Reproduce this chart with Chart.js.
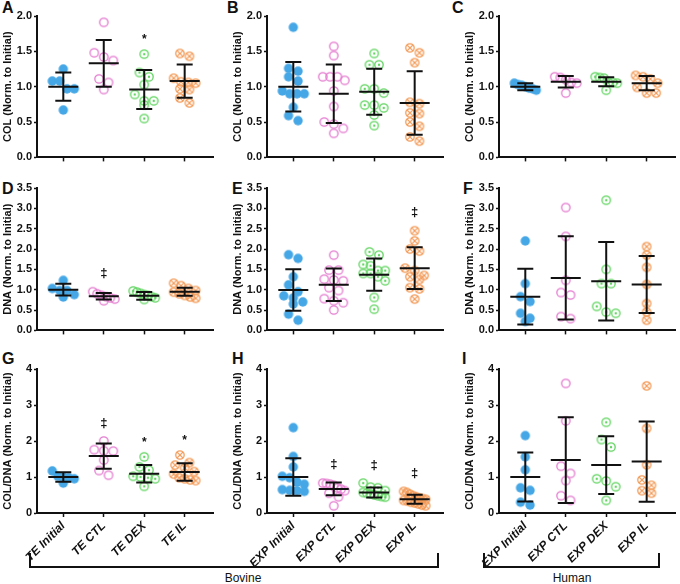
<!DOCTYPE html>
<html>
<head>
<meta charset="utf-8">
<script src="https://cdn.jsdelivr.net/npm/chart.js@4.4.1/dist/chart.umd.min.js"></script>
<style>
  body { margin: 0; background: #fff; }
  #fig { position: relative; width: 680px; height: 584px; overflow: hidden; font-family: "Liberation Sans", Arial, sans-serif; color: #111; }
  #fig canvas { position: absolute; }
  .tag { position: absolute; font-weight: bold; font-size: 16px; line-height: 16px; }
  .bracket { position: absolute; box-sizing: border-box; border: 2px solid #111; border-top: none; }
  .group { position: absolute; font-size: 12px; line-height: 14px; width: 80px; text-align: center; }
</style>
</head>
<body>
<div id="fig">
  <div class="tag" style="left:2px;top:0px">A</div>
  <div class="tag" style="left:227px;top:0px">B</div>
  <div class="tag" style="left:452px;top:0px">C</div>
  <div class="tag" style="left:2px;top:181px">D</div>
  <div class="tag" style="left:232px;top:181px">E</div>
  <div class="tag" style="left:463px;top:181px">F</div>
  <div class="tag" style="left:2px;top:351px">G</div>
  <div class="tag" style="left:232px;top:351px">H</div>
  <div class="tag" style="left:462px;top:351px">I</div>
  <div class="bracket" style="left:29px;top:553px;width:410px;height:15px"></div>
  <div class="bracket" style="left:483px;top:553px;width:177px;height:15px"></div>
  <div class="group" style="left:203px;top:571px">Bovine</div>
  <div class="group" style="left:532px;top:571px">Human</div>
</div>
<script>
// group names
const groupsTE = ['TE Initial', 'TE CTL', 'TE DEX', 'TE IL'];
const groupsEXP = ['EXP Initial', 'EXP CTL', 'EXP DEX', 'EXP IL'];

// A - COL, bovine TE
const colTE = [
  [1.25, 1.08, 1.08, 0.97, 0.97, 0.67],
  [1.91, 1.48, 1.42, 1.37, 1.11, 1.06, 0.96],
  [1.46, 1.20, 1.14, 1.03, 0.89, 0.80, 0.80, 0.74, 0.55],
  [1.47, 1.43, 1.12, 1.07, 1.06, 1.05, 0.97, 0.96, 0.84, 0.77]
];
const colTEMean = [1.00, 1.33, 0.96, 1.08];
const colTESd = [0.20, 0.33, 0.275, 0.235];
const colTESig = ['', '', '*', ''];

// B - COL, bovine explants
const colBov = [
  [1.84, 1.26, 1.22, 1.14, 1.08, 0.94, 0.90, 0.90, 0.90, 0.71, 0.59, 0.52],
  [1.57, 1.44, 1.14, 1.14, 1.14, 1.09, 0.94, 0.72, 0.50, 0.47, 0.41, 0.34],
  [1.47, 1.31, 1.31, 0.97, 0.97, 0.91, 0.74, 0.74, 0.70, 0.60, 0.45],
  [1.55, 1.48, 1.34, 0.78, 0.76, 0.63, 0.62, 0.50, 0.44, 0.29, 0.23]
];
const colBovMean = [1.00, 0.90, 0.93, 0.77];
const colBovSd = [0.35, 0.415, 0.325, 0.45];
const colBovSig = ['', '', '', ''];

// C - COL, human explants
const colHum = [
  [1.05, 1.03, 1.02, 1.00, 0.98, 0.97, 0.95],
  [1.14, 1.13, 1.10, 1.06, 1.05, 0.91],
  [1.14, 1.13, 1.12, 1.06, 1.06, 1.05, 0.95],
  [1.16, 1.14, 1.11, 1.05, 0.99, 0.91, 0.91]
];
const colHumMean = [1.00, 1.07, 1.07, 1.05];
const colHumSd = [0.05, 0.08, 0.065, 0.10];
const colHumSig = ['', '', '', ''];

// D - DNA, bovine TE
const dnaTE = [
  [1.23, 1.03, 0.98, 0.98, 0.88, 0.82],
  [0.95, 0.90, 0.86, 0.83, 0.80, 0.77, 0.73],
  [0.97, 0.94, 0.91, 0.88, 0.86, 0.83, 0.80, 0.76],
  [1.16, 1.10, 1.03, 0.98, 0.94, 0.90, 0.86, 0.82, 0.79]
];
const dnaTEMean = [1.00, 0.84, 0.85, 0.95];
const dnaTESd = [0.145, 0.08, 0.095, 0.10];
const dnaTESig = ['', '\u2021', '', ''];

// E - DNA, bovine explants
const dnaBov = [
  [1.86, 1.77, 1.32, 1.12, 0.95, 0.85, 0.80, 0.70, 0.65, 0.40, 0.25],
  [1.85, 1.48, 1.48, 1.26, 1.24, 1.22, 1.05, 0.98, 0.78, 0.73, 0.68, 0.50],
  [1.93, 1.85, 1.62, 1.59, 1.47, 1.47, 1.40, 1.40, 1.32, 1.22, 0.81, 0.52],
  [2.45, 2.20, 2.00, 1.95, 1.53, 1.47, 1.35, 1.32, 1.25, 1.05, 1.02, 0.77]
];
const dnaBovMean = [0.99, 1.12, 1.37, 1.53];
const dnaBovSd = [0.51, 0.40, 0.395, 0.515];
const dnaBovSig = ['', '', '', '\u2021'];

// F - DNA, human explants
const dnaHum = [
  [2.20, 1.15, 0.83, 0.71, 0.42, 0.30, 0.22],
  [3.02, 2.31, 1.23, 0.93, 0.87, 0.34, 0.29],
  [3.20, 1.50, 1.15, 1.15, 0.59, 0.45, 0.42],
  [2.06, 1.85, 1.55, 1.13, 0.66, 0.45, 0.25]
];
const dnaHumMean = [0.83, 1.29, 1.21, 1.13];
const dnaHumSd = [0.685, 1.025, 0.965, 0.70];
const dnaHumSig = ['', '', '', ''];

// G - COL/DNA, bovine TE
const ratioTE = [
  [1.17, 1.02, 1.00, 0.98, 0.95, 0.83],
  [2.00, 1.76, 1.73, 1.72, 1.47, 1.18, 1.05],
  [1.56, 1.28, 1.19, 1.02, 1.00, 0.98, 0.95, 0.74],
  [1.61, 1.40, 1.33, 1.25, 1.15, 1.08, 0.98, 0.95, 0.92, 0.90]
];
const ratioTEMean = [1.00, 1.58, 1.09, 1.14];
const ratioTESd = [0.13, 0.35, 0.245, 0.245];
const ratioTESig = ['', '\u2021', '*', '*'];

// H - COL/DNA, bovine explants
const ratioBov = [
  [2.37, 1.57, 1.28, 1.02, 0.98, 0.86, 0.80, 0.65, 0.63, 0.62, 0.60],
  [0.83, 0.82, 0.80, 0.77, 0.70, 0.66, 0.62, 0.55, 0.45, 0.20],
  [0.83, 0.72, 0.70, 0.62, 0.57, 0.55, 0.53, 0.50, 0.48, 0.46, 0.44],
  [0.60, 0.57, 0.52, 0.48, 0.45, 0.42, 0.40, 0.38, 0.35, 0.33, 0.30, 0.28, 0.25, 0.22, 0.20]
];
const ratioBovMean = [1.00, 0.67, 0.57, 0.38];
const ratioBovSd = [0.52, 0.175, 0.14, 0.125];
const ratioBovSig = ['', '\u2021', '\u2021', '\u2021'];

// I - COL/DNA, human explants
const ratioHum = [
  [2.15, 1.56, 1.20, 0.70, 0.63, 0.30, 0.22],
  [3.60, 2.56, 1.30, 1.10, 0.90, 0.48, 0.35],
  [2.52, 2.04, 1.83, 0.95, 0.89, 0.73, 0.35],
  [3.53, 2.35, 1.34, 0.92, 0.77, 0.62, 0.55]
];
const ratioHumMean = [1.00, 1.47, 1.33, 1.43];
const ratioHumSd = [0.68, 1.19, 0.80, 1.115];
const ratioHumSig = ['', '', '', ''];

const rows = [
  { top: 16, bottom: 158, max: 2, step: 0.5, dec: 1, title: 'COL (Norm. to Initial)', showLabels: false },
  { top: 188, bottom: 331, max: 3.5, step: 0.5, dec: 1, title: 'DNA (Norm. to Initial)', showLabels: false },
  { top: 369, bottom: 513, max: 4, step: 1, dec: 0, title: 'COL/DNA (Norm. to Initial)', showLabels: true }
];
const colAxisX = [37, 267, 499];

const panels = [
  { row: 0, col: 0, labels: groupsTE, values: colTE, mean: colTEMean, sd: colTESd, sig: colTESig },
  { row: 0, col: 1, labels: groupsEXP, values: colBov, mean: colBovMean, sd: colBovSd, sig: colBovSig },
  { row: 0, col: 2, labels: groupsEXP, values: colHum, mean: colHumMean, sd: colHumSd, sig: colHumSig },
  { row: 1, col: 0, labels: groupsTE, values: dnaTE, mean: dnaTEMean, sd: dnaTESd, sig: dnaTESig },
  { row: 1, col: 1, labels: groupsEXP, values: dnaBov, mean: dnaBovMean, sd: dnaBovSd, sig: dnaBovSig },
  { row: 1, col: 2, labels: groupsEXP, values: dnaHum, mean: dnaHumMean, sd: dnaHumSd, sig: dnaHumSig },
  { row: 2, col: 0, labels: groupsTE, values: ratioTE, mean: ratioTEMean, sd: ratioTESd, sig: ratioTESig },
  { row: 2, col: 1, labels: groupsEXP, values: ratioBov, mean: ratioBovMean, sd: ratioBovSd, sig: ratioBovSig },
  { row: 2, col: 2, labels: groupsEXP, values: ratioHum, mean: ratioHumMean, sd: ratioHumSd, sig: ratioHumSig }
];

const FONT = 'Liberation Sans, Arial, sans-serif';
const INK = '#111';

// marker images: filled, open, open with dot, open with cross
function marker(color, kind) {
  const c = document.createElement('canvas');
  c.width = 12; c.height = 12;
  const g = c.getContext('2d');
  g.strokeStyle = color; g.fillStyle = color; g.lineWidth = 1.3;
  g.beginPath();
  if (kind === 'fill') {
    g.arc(6, 6, 4.7, 0, Math.PI * 2); g.fill();
    return c;
  }
  g.arc(6, 6, 4.2, 0, Math.PI * 2); g.stroke();
  if (kind === 'dot') {
    g.beginPath(); g.arc(6, 6, 1.2, 0, Math.PI * 2); g.fill();
  }
  if (kind === 'cross') {
    const d = 2.9;
    g.beginPath();
    g.moveTo(6 - d, 6 - d); g.lineTo(6 + d, 6 + d);
    g.moveTo(6 + d, 6 - d); g.lineTo(6 - d, 6 + d);
    g.stroke();
  }
  return c;
}
const markers = [
  marker('#45a7e6', 'fill'),
  marker('#e47bcf', 'open'),
  marker('#5fd45f', 'dot'),
  marker('#f39b58', 'cross')
];

// scatter-dot layout: points closer than one row height share a row and are spread sideways
function spread(vals, yScale, rowH, gap, maxHalf) {
  const order = vals.map((v, k) => k).sort((a, b) => vals[b] - vals[a]);
  const off = new Array(vals.length).fill(0);
  let rowStart = null, current = [];
  const flush = () => {
    const n = current.length;
    const step = n > 1 ? Math.min(gap, (2 * maxHalf) / (n - 1)) : 0;
    current.forEach((k, j) => { off[k] = (j - (n - 1) / 2) * step; });
    current = [];
  };
  order.forEach(k => {
    const py = yScale.getPixelForValue(vals[k]);
    if (rowStart === null || py - rowStart >= rowH) { flush(); rowStart = py; }
    current.push(k);
  });
  flush();
  return off;
}

function statsPlugin(p) {
  return {
    id: 'stats',
    afterDatasetsDraw(chart) {
      const { ctx, scales: { x, y } } = chart;
      ctx.save();
      ctx.strokeStyle = INK;
      ctx.lineWidth = 2;
      p.mean.forEach((m, i) => {
        const cx = x.getPixelForValue(i);
        const top = y.getPixelForValue(m + p.sd[i]);
        const bot = y.getPixelForValue(Math.max(m - p.sd[i], 0));
        const my = y.getPixelForValue(m);
        ctx.beginPath();
        ctx.moveTo(cx, top); ctx.lineTo(cx, bot);
        ctx.moveTo(cx - 8, top); ctx.lineTo(cx + 8, top);
        ctx.moveTo(cx - 8, bot); ctx.lineTo(cx + 8, bot);
        ctx.moveTo(cx - 15, my); ctx.lineTo(cx + 15, my);
        ctx.stroke();
        if (p.sig[i]) {
          const peak = y.getPixelForValue(Math.max(...p.values[i], m + p.sd[i]));
          const star = p.sig[i] === '*';
          ctx.fillStyle = INK;
          ctx.textAlign = 'center';
          ctx.textBaseline = 'middle';
          ctx.font = (star ? 'bold 12px ' : 'bold 13px ') + FONT;
          ctx.fillText(p.sig[i], cx, peak - (star ? 14 : 18));
        }
      });
      ctx.restore();
    }
  };
}

const fig = document.getElementById('fig');
const tickFont = { family: FONT, size: 11, weight: 'bold' };

panels.forEach(p => {
  const row = rows[p.row];
  const padTop = 12, padBottom = 2;
  const xH = row.showLabels ? 56 : 6;
  const canvas = document.createElement('canvas');
  canvas.width = 219;
  canvas.height = padTop + (row.bottom - row.top) + xH + padBottom;
  canvas.style.left = (colAxisX[p.col] - 37) + 'px';
  canvas.style.top = (row.top - padTop) + 'px';
  fig.appendChild(canvas);

  const chart = new Chart(canvas, {
    type: 'scatter',
    data: {
      datasets: p.values.map((vals, i) => ({
        label: p.labels[i],
        data: vals.map(v => ({ x: i, y: v })),
        pointStyle: markers[i],
        pointRadius: 5,
        clip: false
      }))
    },
    options: {
      responsive: false,
      animation: false,
      devicePixelRatio: 1,
      layout: { padding: { top: padTop, bottom: padBottom, left: 0, right: 2 } },
      plugins: { legend: { display: false }, tooltip: { enabled: false } },
      scales: {
        x: {
          type: 'linear', min: -0.65, max: 3.7,
          afterBuildTicks: s => { s.ticks = [0, 1, 2, 3].map(v => ({ value: v })); },
          afterFit: s => { s.height = xH; },
          border: { display: true, color: INK, width: 2 },
          grid: { display: true, drawOnChartArea: false, drawTicks: true, tickLength: 4, tickColor: INK, tickWidth: 1.5 },
          ticks: {
            display: row.showLabels, autoSkip: false, minRotation: 45, maxRotation: 45, padding: 2,
            color: INK, font: { family: FONT, size: 12, weight: 'bold', style: 'italic' },
            callback: v => p.labels[v]
          }
        },
        y: {
          min: 0, max: row.max,
          afterFit: s => { s.width = 37; },
          border: { display: true, color: INK, width: 2 },
          grid: { display: true, drawOnChartArea: false, drawTicks: true, tickLength: 3, tickColor: INK, tickWidth: 1.5 },
          ticks: { stepSize: row.step, padding: 2, color: INK, font: tickFont, callback: v => v.toFixed(row.dec) },
          title: { display: true, text: row.title, color: INK, font: tickFont, padding: { top: 1.5, bottom: 0 } }
        }
      }
    },
    plugins: [statsPlugin(p)]
  });

  const unit = chart.scales.x.getPixelForValue(1) - chart.scales.x.getPixelForValue(0);
  chart.data.datasets.forEach((ds, i) => {
    const off = spread(p.values[i], chart.scales.y, 8, 9.5, 11);
    ds.data = p.values[i].map((v, k) => ({ x: i + off[k] / unit, y: v }));
  });
  chart.update('none');
});
</script>
</body>
</html>
